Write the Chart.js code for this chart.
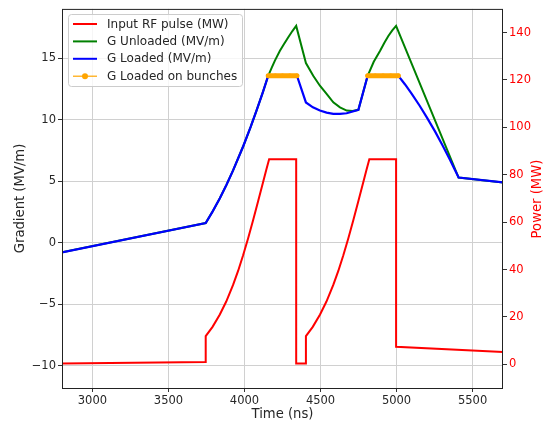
<!DOCTYPE html>
<html>
<head>
<meta charset="utf-8">
<script src="https://cdn.jsdelivr.net/npm/chart.js@4.4.1/dist/chart.umd.min.js"></script>
<style>
    html, body { margin: 0; padding: 0; background: #fff; }
</style>
</head>
<body>
<canvas id="pulseChart" width="551" height="424"></canvas>
<script>
// input RF pulse, MW (right axis)
const pulseT = [2800, 3745, 3745, 3790, 3838, 3880, 3925, 3958, 3991, 4024, 4057, 4090, 4123, 4143, 4162, 4340, 4340,
    4404, 4404, 4449, 4497, 4539, 4584, 4617, 4650, 4683, 4716, 4749, 4782, 4802, 4821, 4997, 4997, 5700];
const pulseP = [0.3, 1.0, 11.9, 15.8, 21.0, 26.5, 33.5, 39.4, 46.0, 53.2, 60.9, 68.9, 77.1, 82.0, 86.5, 86.5, 0.3,
    0.3, 11.9, 15.8, 21.0, 26.5, 33.5, 39.4, 46.0, 53.2, 60.9, 68.9, 77.1, 82.0, 86.5, 86.5, 7.4, 5.2];

// unloaded gradient, MV/m
const unloadedT = [2800, 3745, 3790, 3838, 3882, 3925, 3991, 4040, 4079, 4120, 4156, 4180, 4200, 4233, 4260, 4288, 4315, 4340,
    4404, 4452, 4496, 4540, 4584, 4628, 4672, 4710, 4749, 4810, 4850, 4892, 4920, 4946, 4972, 4997, 5408, 5700];
const unloadedG = [-0.78, 1.6, 2.53, 3.62, 4.72, 5.88, 7.82, 9.39, 10.73, 12.2, 13.57, 14.25, 14.8, 15.6, 16.15, 16.7, 17.2, 17.62,
    14.6, 13.57, 12.76, 12.09, 11.41, 11.0, 10.74, 10.7, 10.8, 13.57, 14.7, 15.6, 16.25, 16.8, 17.25, 17.62, 5.3, 4.9];

// loaded gradient, MV/m
const loadedT = [2800, 3745, 3790, 3838, 3882, 3925, 3991, 4040, 4079, 4120, 4156, 4345,
    4404, 4450, 4496, 4540, 4584, 4628, 4672, 4749, 4810, 5012, 5056, 5100, 5152, 5199, 5252, 5302, 5352, 5380, 5408, 5700];
const loadedG = [-0.78, 1.6, 2.53, 3.62, 4.72, 5.88, 7.82, 9.39, 10.73, 12.2, 13.57, 13.57,
    11.4, 11.0, 10.74, 10.57, 10.47, 10.47, 10.52, 10.8, 13.57, 13.57, 12.86, 12.1, 11.13, 10.19, 9.07, 7.93, 6.73, 6.02, 5.3, 4.9];

// loaded gradient seen by the bunches (null = gap between trains)
const bunchT = [4156, 4203, 4250, 4298, 4345, 4578, 4810, 4860, 4911, 4961, 5012];
const bunchG = [13.57, 13.57, 13.57, 13.57, 13.57, null, 13.57, 13.57, 13.57, 13.57, 13.57];

const xTicks = [3000, 3500, 4000, 4500, 5000, 5500];
const gTicks = [-10, -5, 0, 5, 10, 15];
const pTicks = [0, 20, 40, 60, 80, 100, 120, 140];

const FONT = '"DejaVu Sans", sans-serif';

function toPoints(xs, ys) {
    return xs.map((x, i) => ({x: x, y: ys[i]}));
}

function minusSign(v) {
    return v < 0 ? '\u2212' + Math.abs(v) : String(v);
}

const frameAndLegend = {
    id: 'frameAndLegend',
    afterDraw(chart) {
        const c = chart.ctx;
        const area = chart.chartArea;
        c.save();

        // axes frame
        c.strokeStyle = '#222';
        c.lineWidth = 1;
        c.strokeRect(area.left + 0.5, area.top + 0.5, area.right - area.left - 1, area.bottom - area.top);

        // right axis title, reading bottom to top
        c.fillStyle = 'red';
        c.font = '13.2px ' + FONT;
        c.textAlign = 'center';
        c.textBaseline = 'middle';
        c.translate(538, 199);
        c.rotate(-Math.PI / 2);
        c.fillText('Power (MW)', 0, 0);
        c.setTransform(1, 0, 0, 1, 0, 0);

        // legend
        c.fillStyle = 'rgba(255,255,255,0.8)';
        c.strokeStyle = '#cccccc';
        c.beginPath();
        c.roundRect(68.5, 14.5, 174, 72, 3);
        c.fill();
        c.stroke();

        c.font = '12px ' + FONT;
        c.textAlign = 'left';
        c.textBaseline = 'middle';
        chart.data.datasets.forEach((ds, i) => {
            const y = 24 + i * 17.4;
            const isBunch = ds.label.indexOf('bunches') >= 0;
            c.strokeStyle = ds.borderColor;
            c.lineWidth = isBunch ? 1.2 : 2;
            c.beginPath();
            c.moveTo(73, y);
            c.lineTo(97, y);
            c.stroke();
            if (isBunch) {
                c.fillStyle = ds.borderColor;
                c.beginPath();
                c.arc(85, y, 3, 0, Math.PI * 2);
                c.fill();
            }
            c.fillStyle = '#262626';
            c.fillText(ds.label, 107, y + 0.5);
        });
        c.restore();
    }
};

const ctx = document.getElementById('pulseChart').getContext('2d');

const pulseChart = new Chart(ctx, {
    type: 'line',
    data: {
        datasets: [
            {
                label: 'Input RF pulse (MW)',
                data: toPoints(pulseT, pulseP),
                yAxisID: 'y1',
                borderColor: '#ff0000',
                borderWidth: 2,
                pointRadius: 0,
                tension: 0,
                order: 4
            },
            {
                label: 'G Unloaded (MV/m)',
                data: toPoints(unloadedT, unloadedG),
                yAxisID: 'y',
                borderColor: '#008000',
                borderWidth: 2,
                pointRadius: 0,
                tension: 0,
                order: 3
            },
            {
                label: 'G Loaded (MV/m)',
                data: toPoints(loadedT, loadedG),
                yAxisID: 'y',
                borderColor: '#0000ff',
                borderWidth: 2.2,
                pointRadius: 0,
                tension: 0,
                order: 2
            },
            {
                label: 'G Loaded on bunches',
                data: toPoints(bunchT, bunchG),
                yAxisID: 'y',
                borderColor: '#ffa500',
                backgroundColor: '#ffa500',
                borderWidth: 5,
                borderCapStyle: 'round',
                pointRadius: 2.2,
                pointBorderWidth: 0,
                spanGaps: false,
                tension: 0,
                order: 1
            }
        ]
    },
    options: {
        responsive: false,
        animation: false,
        layout: {padding: {top: 8, left: 0, right: 0, bottom: 0}},
        plugins: {
            legend: {display: false},
            tooltip: {enabled: false}
        },
        scales: {
            x: {
                type: 'linear',
                min: 2800,
                max: 5700,
                afterBuildTicks: s => { s.ticks = xTicks.map(v => ({value: v})); },
                afterFit: s => { s.height = 36; },
                grid: {color: '#d0d0d0', tickColor: '#333', tickLength: 4},
                border: {display: false},
                ticks: {color: '#262626', padding: 2, maxRotation: 0, callback: v => String(v), font: {family: FONT, size: 11.5}},
                title: {display: true, text: 'Time (ns)', color: '#262626', padding: {top: 0, bottom: 2}, font: {family: FONT, size: 13.2}}
            },
            y: {
                position: 'left',
                min: -11.8,
                max: 19.0,
                afterBuildTicks: s => { s.ticks = gTicks.map(v => ({value: v})); },
                afterFit: s => { s.width = 62; },
                grid: {color: '#d0d0d0', tickColor: '#333', tickLength: 4},
                border: {display: false},
                ticks: {color: '#262626', padding: 2, callback: v => minusSign(v), font: {family: FONT, size: 11.5}},
                title: {display: true, text: 'Gradient (MV/m)', color: '#262626', padding: {top: 13, bottom: 0}, font: {family: FONT, size: 13.2}}
            },
            y1: {
                position: 'right',
                min: -10,
                max: 150,
                afterBuildTicks: s => { s.ticks = pTicks.map(v => ({value: v})); },
                afterFit: s => { s.width = 48; },
                grid: {drawOnChartArea: false, tickColor: '#333', tickLength: 4},
                border: {display: false},
                ticks: {color: 'red', padding: 2, font: {family: FONT, size: 11.5}}
            }
        }
    },
    plugins: [frameAndLegend]
});
</script>
</body>
</html>
